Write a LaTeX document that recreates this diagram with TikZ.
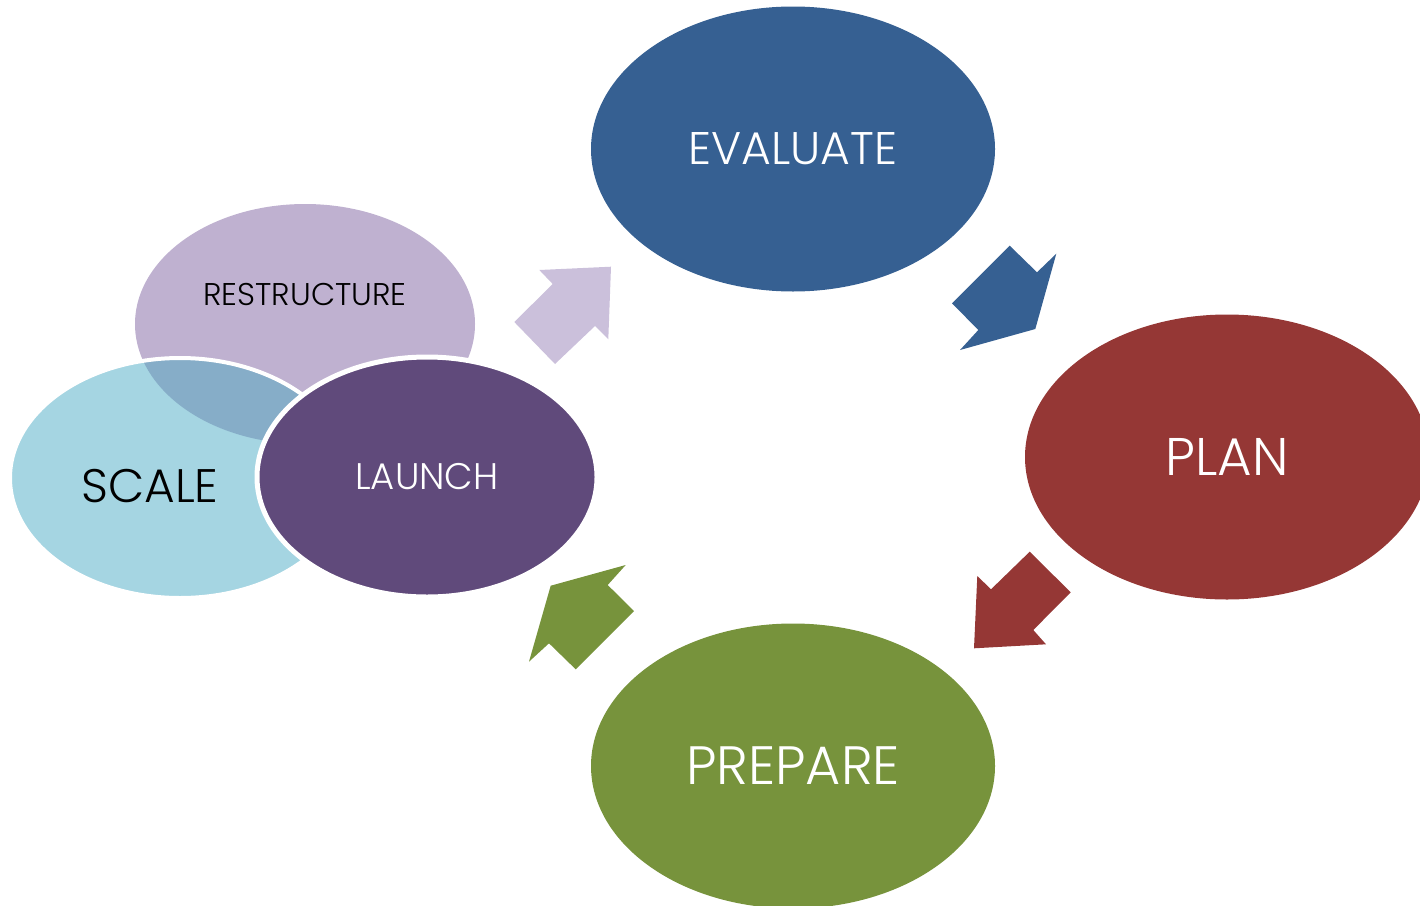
\documentclass[tikz,border=0pt]{standalone}
\usepackage{fontspec}
\setmainfont{Poppins}[UprightFont={* Light}]
\usepackage{tikz}
\usetikzlibrary{shapes.geometric}

\definecolor{evalblue}{HTML}{366092}
\definecolor{planred}{HTML}{953735}
\definecolor{prepgreen}{HTML}{77933C}
\definecolor{launchpurple}{HTML}{604A7B}
\definecolor{restructlilac}{HTML}{BFB1D0}
\definecolor{arrowlilac}{HTML}{CBC0DB}
\definecolor{scaleaqua}{HTML}{A5D5E2}
\definecolor{overlapblue}{HTML}{86ADC8}

\begin{document}
\begin{tikzpicture}[x=1pt, y=-1pt,
  bigbubble/.style={ellipse, inner sep=0pt, minimum width=404pt, minimum height=285pt, text=white},
  smallbubble/.style={ellipse, inner sep=0pt, minimum width=340pt, minimum height=240pt}]
\useasboundingbox (0,0) rectangle (1420,905);
\clip (0,0) rectangle (1420,905);

% cycle
\node[bigbubble, fill=evalblue] (evaluate) at (793,149) {\fontsize{45.7}{50}\selectfont EVALUATE};
\node[bigbubble, fill=planred] (plan) at (1227,457) {\fontsize{53}{58}\selectfont PLAN};
\node[bigbubble, fill=prepgreen] (prepare) at (793,766) {\fontsize{54}{60}\selectfont PREPARE};

% block arrows
\fill[evalblue] (1009.7,245.7) -- (1037,272.3) -- (1056.3,253.7) -- (1035.3,329) -- (960,350) -- (978.3,330) -- (952,303.3) -- cycle;
\fill[planred] (1029.7,551.7) -- (1070.7,592.3) -- (1033.3,630) -- (1046,644.3) -- (974,648.3) -- (977.3,576) -- (991,589.3) -- cycle;
\fill[prepgreen] (634,611) -- (607.7,585) -- (625.7,565) -- (550.7,585.7) -- (529,661.7) -- (549,643.3) -- (575.7,669.3) -- cycle;
\fill[arrowlilac] (555,364) -- (595,326) -- (608.3,339.3) -- (611,266.7) -- (539.3,270) -- (552.7,284) -- (514.3,322) -- cycle;

% launch group
\node[smallbubble, fill=restructlilac] (restructure) at (305,324) {};
\node[smallbubble, fill=scaleaqua] (scale) at (180,478) {};
\begin{scope}
\clip (scale.center) ellipse [x radius=170pt, y radius=120pt];
\fill[overlapblue] (restructure.center) ellipse [x radius=170pt, y radius=120pt];
\end{scope}
\draw[white, line width=4pt] (scale.center) ellipse [x radius=170pt, y radius=120pt];
\node[smallbubble, fill=launchpurple, draw=white, line width=5pt, text=white] (launch) at (427,477) {\fontsize{37}{40}\selectfont LAUNCH};

\node (restructurelabel) at (305,295) {\fontsize{31.4}{34}\selectfont RESTRUCTURE};
\node (scalelabel) at (150,486) {\fontsize{47}{50}\selectfont SCALE};
\end{tikzpicture}
\end{document}
